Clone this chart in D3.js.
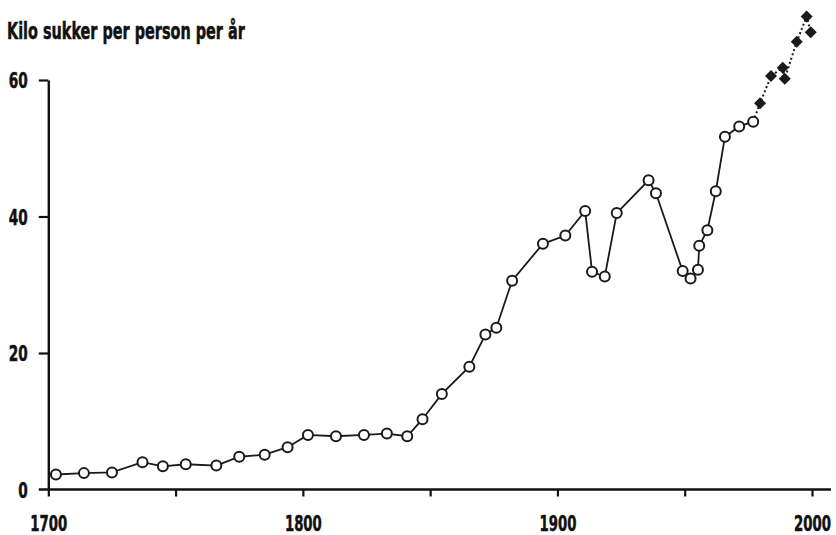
<!DOCTYPE html>
<html><head><meta charset="utf-8">
<script src="https://cdn.jsdelivr.net/npm/d3@7/dist/d3.min.js"></script>
<style>
body{margin:0;background:#fff;}
svg text{font-family:"Liberation Sans Narrow","Arial Narrow","DejaVu Sans Condensed",sans-serif;font-weight:bold;fill:#111;stroke:#111;stroke-width:0.5px;}
</style></head><body>
<svg id="c" width="836" height="535"></svg>
<script>
const title = "Kilo sukker per person per år";
const histYears = [1703,1714,1725,1737,1745,1754,1766,1775,1785,1794,1802,1813,1824,1833,1841,1847,1854.6,1865.4,1871.7,1876,1882.2,1894.3,1903.1,1910.9,1913.6,1918.6,1923.3,1935.8,1938.7,1949.2,1952.3,1955.2,1955.7,1958.9,1962.2,1965.8,1971.4,1976.9];
const histValues = [2.2,2.4,2.5,4.0,3.4,3.7,3.5,4.8,5.1,6.2,8.0,7.8,8.0,8.2,7.8,10.3,14.0,18.0,22.7,23.7,30.6,36.0,37.2,40.8,31.9,31.2,40.5,45.3,43.4,32.0,30.9,32.2,35.7,38.0,43.7,51.7,53.2,53.9];
const recentYears = [1979.6,1983.9,1988.5,1989.3,1994,1997.9,1999.5];
const recentValues = [56.6,60.6,61.8,60.2,65.6,69.3,67.0];
const xTicks = [1700,1750,1800,1850,1900,1950,2000];
const xLabels = [1700,1800,1900,2000];
const yTicks = [0,20,40,60];

const svg = d3.select("#c");
const axisEnd = 831;
const x = d3.scaleLinear().domain([1700,2000]).range([48.3,812]);
const y = d3.scaleLinear().domain([0,60]).range([489.5,80]);
const hist = histYears.map((yr,i)=>({yr, v:histValues[i]}));
const rec = recentYears.map((yr,i)=>({yr, v:recentValues[i]}));

// squeeze a text horizontally to a target width, keeping its anchor point
function squeeze(sel, target){
  sel.each(function(d){
    const t = d3.select(this);
    const w = this.getComputedTextLength();
    const tw = typeof target === "function" ? target(d) : target;
    if (!w || !tw) return;
    const sx = tw / w;
    const x0 = +t.attr("x") || 0;
    t.attr("x", x0 / sx).attr("transform", `scale(${sx},1)`);
  });
}

svg.append("text").attr("x",7).attr("y",39).attr("font-size",23).text(title)
  .call(squeeze, 238);

// y axis
const ya = svg.append("g").attr("transform",`translate(${x.range()[0]},0)`)
  .call(d3.axisLeft(y).tickValues(yTicks).tickSize(9.5).tickPadding(11).tickSizeOuter(0));
ya.select(".domain").attr("stroke","#111").attr("stroke-width",2.4);
ya.selectAll(".tick line").attr("stroke","#111").attr("stroke-width",2.2);
ya.selectAll(".tick text").attr("font-size",22).attr("font-family",null).attr("dy","0.36em")
  .call(squeeze, d=>String(d).length*9.5);
ya.selectAll(".tick").filter(d=>d===0).select("line").remove();

// x axis
const xa = svg.append("g").attr("transform",`translate(0,${y(0)})`)
  .call(d3.axisBottom(x).tickValues(xTicks).tickSize(7).tickPadding(16).tickFormat(d=>xLabels.includes(d)?d:"").tickSizeOuter(0));
xa.select(".domain").remove();
xa.append("line").attr("x1",x.range()[0]-9.5).attr("x2",axisEnd).attr("stroke","#111").attr("stroke-width",2.6);
xa.selectAll(".tick line").attr("stroke","#111").attr("stroke-width",2.2);
xa.selectAll(".tick text").attr("font-size",22).attr("font-family",null).attr("y",41.5).attr("dy",0)
  .call(squeeze, d=>xLabels.includes(d)?37:0);

const line = d3.line().x(d=>x(d.yr)).y(d=>y(d.v));
svg.append("path").datum(hist).attr("d",line).attr("fill","none").attr("stroke","#1a1a1a").attr("stroke-width",1.8);
svg.append("path").datum([hist[hist.length-1]].concat(rec)).attr("d",line).attr("fill","none")
  .attr("stroke","#1a1a1a").attr("stroke-width",2).attr("stroke-dasharray","2,2.5");

svg.selectAll("circle.h").data(hist).join("circle").attr("class","h")
  .attr("cx",d=>x(d.yr)).attr("cy",d=>y(d.v)).attr("r",5)
  .attr("fill","#fff").attr("stroke","#1a1a1a").attr("stroke-width",2);

const sym = d3.symbol().type(d3.symbolSquare).size(72);
svg.selectAll("path.r").data(rec).join("path").attr("class","r")
  .attr("d",sym).attr("transform",d=>`translate(${x(d.yr)},${y(d.v)}) rotate(45)`)
  .attr("fill","#1a1a1a");
</script></body></html>
